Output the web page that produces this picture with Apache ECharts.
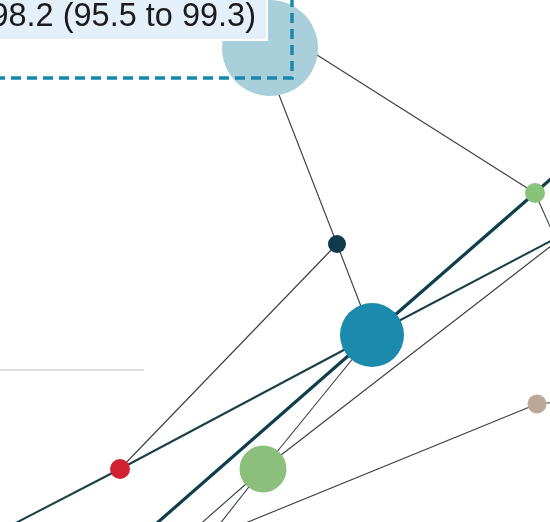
<!DOCTYPE html>
<html>
<head>
<meta charset="utf-8">
<script src="https://cdn.jsdelivr.net/npm/echarts@6/dist/echarts.min.js"></script>
<style>
  html, body { margin: 0; padding: 0; background: #fff; }
  #chart { width: 550px; height: 522px; }
</style>
</head>
<body>
<div id="chart"></div>
<script>
// network nodes (position in plot units, weight = circle size)
var nodeNames  = ['A', 'J', 'B', 'C', 'D', 'E', 'F', 'G', 'T1', 'T2', 'M1', 'R1', 'R2', 'R3', 'G1', 'G2', 'Fa', 'Fb'];
var nodeX      = [270, 246, 337, 372, 535, 120, 263, 537,  69, 600, -50, 600, 600, 565, 150, 600, 114, 160];
var nodeY      = [ 48,  10, 244, 335, 193, 469, 469, 404, 600, 135, 557, 215, 208, 260, 562, 398, 600, 600];
var nodeWeight = [ 96,   0,  18,  64,  20,  20,  47,  19,   0,   0,   0,   0,   0,   0,   0,   0,   0,   0];

// comparisons (weight = number of studies)
var edgeFrom   = ['J', 'J', 'B', 'B', 'E', 'E', 'C', 'C', 'D', 'C', 'F', 'F', 'D', 'G', 'G', 'F', 'F'];
var edgeTo     = ['B', 'D', 'C', 'E', 'C', 'M1', 'R1', 'D', 'T2', 'T1', 'C', 'R2', 'R3', 'G1', 'G2', 'Fa', 'Fb'];
var edgeWeight = [ 1,   1,   1,   1,   2,   2,    2,    3,   3,    3,    1,   1,    1,    1,    1,    1,    1];

var boxText = '98.2 (95.5 to 99.3)';

window.onload = function () {
    var colors = {
        A: '#a9cfda', B: '#0e3a4c', C: '#1b8aac', D: '#88c37c',
        E: '#d1202f', F: '#8cbf7b', G: '#bda897'
    };
    var edgeStyle = {
        1: { width: 1.1, color: '#383c3f' },
        2: { width: 2, color: '#1b3f48' },
        3: { width: 3.2, color: '#113e4b' }
    };

    var nodes = nodeNames.map(function (n, i) {
        return {
            name: n,
            value: [nodeX[i], nodeY[i]],
            symbolSize: nodeWeight[i],
            itemStyle: { color: colors[n] || 'transparent' }
        };
    });
    var links = edgeFrom.map(function (s, i) {
        return { source: s, target: edgeTo[i], lineStyle: edgeStyle[edgeWeight[i]] };
    });

    var chart = echarts.init(document.getElementById('chart'));
    chart.setOption({
        animation: false,
        grid: { left: 0, right: 0, top: 0, bottom: 0 },
        xAxis: { type: 'value', min: 0, max: 550, show: false },
        yAxis: { type: 'value', min: 0, max: 522, inverse: true, show: false },
        series: [{
            type: 'graph',
            coordinateSystem: 'cartesian2d',
            layout: 'none',
            symbol: 'circle',
            data: nodes,
            links: links,
            label: { show: false },
            lineStyle: { opacity: 1, curveness: 0 },
            emphasis: { disabled: true }
        }],
        graphic: [
            {
                type: 'line', z: 100,
                shape: { x1: 0, y1: 370, x2: 144, y2: 370 },
                style: { stroke: '#dedede', lineWidth: 2 }
            },
            {
                type: 'rect', z: 100,
                shape: { x: -10, y: -10, width: 277, height: 50 },
                style: { fill: '#e4eff9', stroke: '#ffffff', lineWidth: 2 }
            },
            {
                type: 'text', z: 101,
                x: 256, y: 17,
                style: {
                    text: boxText,
                    font: '32.5px "Liberation Sans", Arial, sans-serif',
                    fill: '#1a1a1a',
                    align: 'right',
                    verticalAlign: 'middle'
                }
            },
            {
                type: 'polyline', z: 102,
                shape: { points: [[-5, 78], [292, 78], [292, -5]] },
                style: { stroke: '#1a87ae', lineWidth: 3.5, lineDash: [10, 6], fill: null }
            }
        ]
    });
};
</script>
</body>
</html>
